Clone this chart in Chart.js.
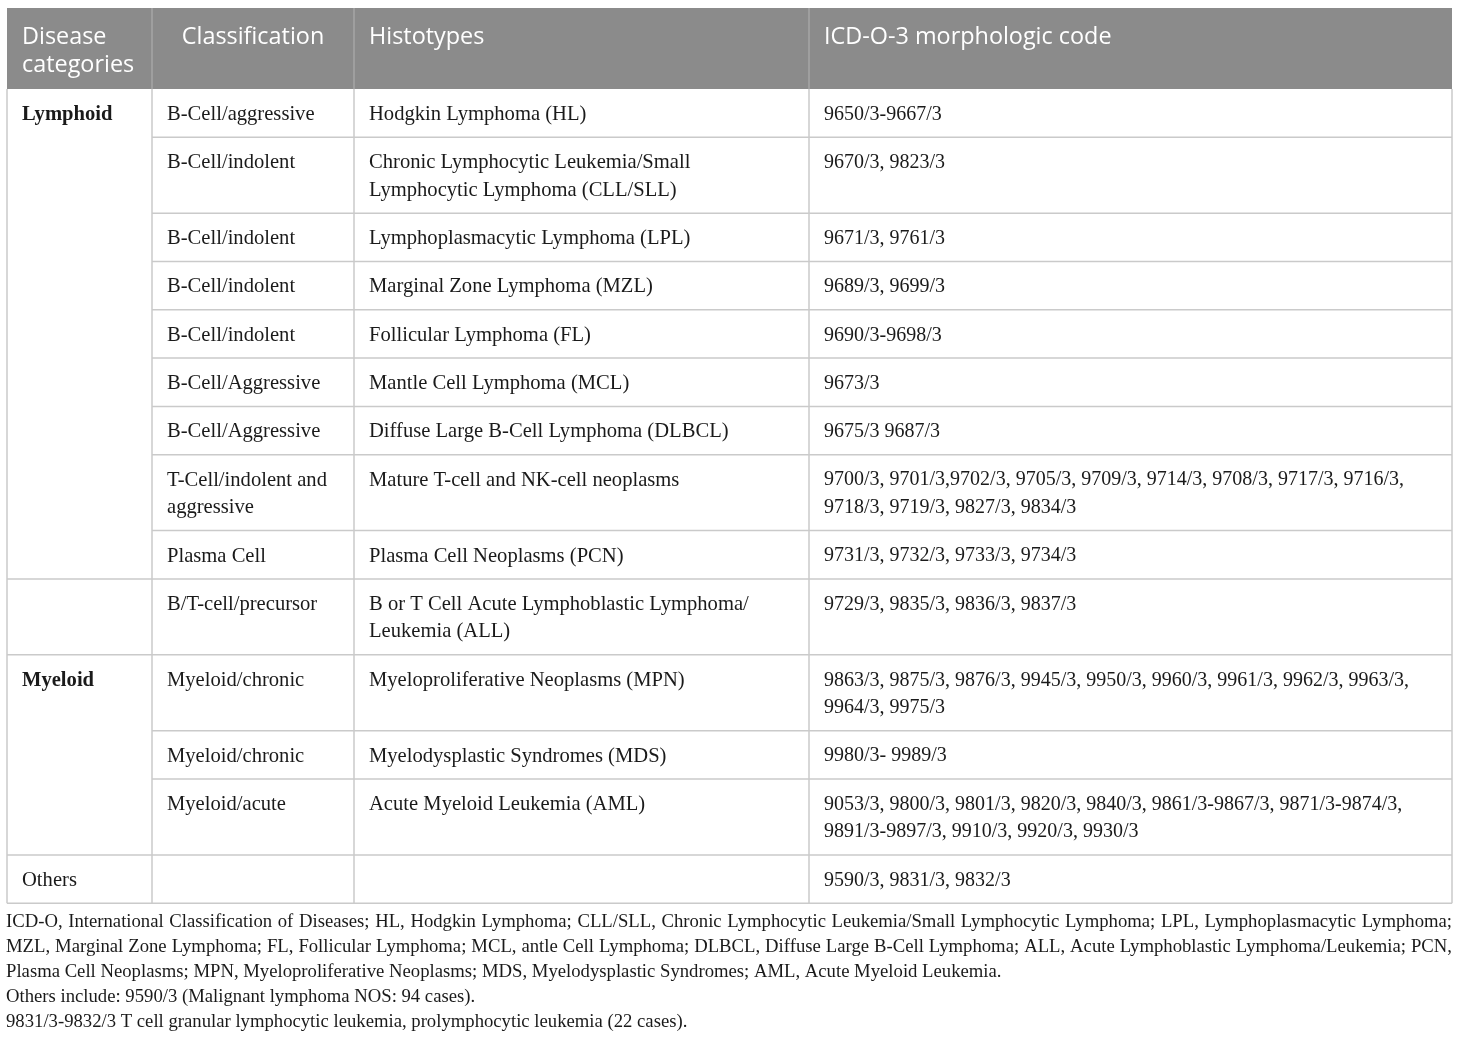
<!DOCTYPE html>
<html>
<head>
<meta charset="utf-8">
<script src="https://cdn.jsdelivr.net/npm/chart.js@4/dist/chart.umd.min.js"></script>
<style>
  html, body { margin: 0; padding: 0; background: #fff; }
  #wrap { width: 1460px; height: 1039px; position: relative; }
</style>
</head>
<body>
<div id="wrap"><canvas id="tableChart"></canvas></div>
<script>
const headers = ["Disease\ncategories", "Classification", "Histotypes", "ICD-O-3 morphologic code"];

const categories = ["Lymphoid", "", "Myeloid", "Others"];
const categorySpans = [9, 1, 3, 1];

const classifications = [
  "B-Cell/aggressive",
  "B-Cell/indolent",
  "B-Cell/indolent",
  "B-Cell/indolent",
  "B-Cell/indolent",
  "B-Cell/Aggressive",
  "B-Cell/Aggressive",
  "T-Cell/indolent and\naggressive",
  "Plasma Cell",
  "B/T-cell/precursor",
  "Myeloid/chronic",
  "Myeloid/chronic",
  "Myeloid/acute",
  ""
];

const histotypes = [
  "Hodgkin Lymphoma (HL)",
  "Chronic Lymphocytic Leukemia/Small\nLymphocytic Lymphoma (CLL/SLL)",
  "Lymphoplasmacytic Lymphoma (LPL)",
  "Marginal Zone Lymphoma (MZL)",
  "Follicular Lymphoma (FL)",
  "Mantle Cell Lymphoma (MCL)",
  "Diffuse Large B-Cell Lymphoma (DLBCL)",
  "Mature T-cell and NK-cell neoplasms",
  "Plasma Cell Neoplasms (PCN)",
  "B or T Cell Acute Lymphoblastic Lymphoma/\nLeukemia (ALL)",
  "Myeloproliferative Neoplasms (MPN)",
  "Myelodysplastic Syndromes (MDS)",
  "Acute Myeloid Leukemia (AML)",
  ""
];

const codes = [
  "9650/3-9667/3",
  "9670/3, 9823/3",
  "9671/3, 9761/3",
  "9689/3, 9699/3",
  "9690/3-9698/3",
  "9673/3",
  "9675/3 9687/3",
  "9700/3, 9701/3,9702/3, 9705/3, 9709/3, 9714/3, 9708/3, 9717/3, 9716/3,\n9718/3, 9719/3, 9827/3, 9834/3",
  "9731/3, 9732/3, 9733/3, 9734/3",
  "9729/3, 9835/3, 9836/3, 9837/3",
  "9863/3, 9875/3, 9876/3, 9945/3, 9950/3, 9960/3, 9961/3, 9962/3, 9963/3,\n9964/3, 9975/3",
  "9980/3- 9989/3",
  "9053/3, 9800/3, 9801/3, 9820/3, 9840/3, 9861/3-9867/3, 9871/3-9874/3,\n9891/3-9897/3, 9910/3, 9920/3, 9930/3",
  "9590/3, 9831/3, 9832/3"
];

const footnotes = [
  "ICD-O, International Classification of Diseases; HL, Hodgkin Lymphoma; CLL/SLL, Chronic Lymphocytic Leukemia/Small Lymphocytic Lymphoma; LPL, Lymphoplasmacytic Lymphoma;",
  "MZL, Marginal Zone Lymphoma; FL, Follicular Lymphoma; MCL, antle Cell Lymphoma; DLBCL, Diffuse Large B-Cell Lymphoma; ALL, Acute Lymphoblastic Lymphoma/Leukemia; PCN,",
  "Plasma Cell Neoplasms; MPN, Myeloproliferative Neoplasms; MDS, Myelodysplastic Syndromes; AML, Acute Myeloid Leukemia.",
  "Others include: 9590/3 (Malignant lymphoma NOS: 94 cases).",
  "9831/3-9832/3 T cell granular lymphocytic leukemia, prolymphocytic leukemia (22 cases)."
];
const justifiedFootnotes = [true, true, false, false, false];

// layout, in axis units (one unit = one page pixel)
const colEdges = [7, 152, 354, 809, 1452];
const tableTop = 8;
const headerBottom = 89;
const rowBase = 20.7;
const lineStep = 27.6;
const footTop = 922.5;
const footStep = 24.8;

const textFont = '20.6px "Liberation Serif", serif';
const codeFont = '20px "Liberation Serif", serif';
const boldFont = 'bold 20.6px "Liberation Serif", serif';
const headFont = '23.4px "Open Sans", sans-serif';
const footFont = '18.7px "Liberation Serif", serif';

const lineCount = s => s ? s.split("\n").length : 1;

const tablePlugin = {
  id: "tablePlugin",
  afterDraw(chart) {
    const { ctx } = chart;
    const xs = chart.scales.x, ys = chart.scales.y;
    const px = v => xs.getPixelForValue(v);
    const py = v => ys.getPixelForValue(v);

    // row boundaries from the number of text lines in each row
    const rowTops = [headerBottom];
    classifications.forEach((c, i) => {
      const n = Math.max(lineCount(c), lineCount(histotypes[i]), lineCount(codes[i]));
      rowTops.push(rowTops[i] + rowBase + lineStep * n);
    });
    const tableBottom = rowTops[rowTops.length - 1];

    ctx.save();

    // header band
    ctx.fillStyle = "#8b8b8b";
    ctx.fillRect(px(colEdges[0]), py(tableTop), px(colEdges[4]) - px(colEdges[0]), py(headerBottom) - py(tableTop));
    ctx.strokeStyle = "#a6a6a6";
    ctx.lineWidth = 1.5;
    for (let c = 1; c < 4; c++) {
      ctx.beginPath();
      ctx.moveTo(px(colEdges[c]), py(tableTop));
      ctx.lineTo(px(colEdges[c]), py(headerBottom));
      ctx.stroke();
    }

    ctx.fillStyle = "#ffffff";
    ctx.font = headFont;
    ctx.textBaseline = "middle";
    headers.forEach((h, c) => {
      h.split("\n").forEach((ln, k) => {
        const yy = py(tableTop + 29 + k * 28);
        if (c === 1) {
          ctx.textAlign = "center";
          ctx.fillText(ln, px((colEdges[1] + colEdges[2]) / 2), yy);
        } else {
          ctx.textAlign = "left";
          ctx.fillText(ln, px(colEdges[c] + 15), yy);
        }
      });
    });

    // grid lines
    ctx.strokeStyle = "#cacaca";
    ctx.lineWidth = 1.5;
    const line = (x1, y1, x2, y2) => {
      ctx.beginPath();
      ctx.moveTo(px(x1), py(y1));
      ctx.lineTo(px(x2), py(y2));
      ctx.stroke();
    };
    colEdges.forEach(cx => line(cx, headerBottom, cx, tableBottom));
    line(colEdges[0], tableBottom, colEdges[4], tableBottom);

    // horizontal row lines, skipping the first column inside a category span
    const spanEnds = [];
    categorySpans.reduce((acc, s) => { spanEnds.push(acc + s); return acc + s; }, 0);
    for (let r = 1; r < rowTops.length - 1; r++) {
      const startX = spanEnds.includes(r) ? colEdges[0] : colEdges[1];
      line(startX, rowTops[r], colEdges[4], rowTops[r]);
    }

    // cell texts
    ctx.fillStyle = "#1a1a1a";
    ctx.textAlign = "left";
    ctx.textBaseline = "middle";
    const drawCell = (text, col, row, font) => {
      if (!text) return;
      ctx.font = font;
      text.split("\n").forEach((ln, k) => {
        ctx.fillText(ln, px(colEdges[col] + 15), py(rowTops[row] + 25.5 + k * lineStep));
      });
    };
    let r0 = 0;
    categories.forEach((cat, i) => {
      drawCell(cat, 0, r0, cat === "Others" ? textFont : boldFont);
      r0 += categorySpans[i];
    });
    classifications.forEach((c, i) => {
      drawCell(c, 1, i, textFont);
      drawCell(histotypes[i], 2, i, textFont);
      drawCell(codes[i], 3, i, codeFont);
    });

    // footnotes
    ctx.font = footFont;
    const fx0 = 6, fx1 = colEdges[4];
    footnotes.forEach((ln, k) => {
      const yy = py(footTop + k * footStep);
      if (justifiedFootnotes[k]) {
        const words = ln.split(" ");
        const wordsW = words.reduce((a, w) => a + ctx.measureText(w).width, 0);
        const gap = (px(fx1) - px(fx0) - wordsW) / (words.length - 1);
        let xx = px(fx0);
        words.forEach(w => {
          ctx.fillText(w, xx, yy);
          xx += ctx.measureText(w).width + gap;
        });
      } else {
        ctx.fillText(ln, px(fx0), yy);
      }
    });

    ctx.restore();
  }
};

new Chart(document.getElementById("tableChart").getContext("2d"), {
  type: "scatter",
  data: {
    datasets: [{
      data: classifications.map((c, i) => ({ x: colEdges[1], y: headerBottom + i })),
      pointRadius: 0,
      showLine: false
    }]
  },
  options: {
    responsive: true,
    maintainAspectRatio: false,
    animation: false,
    events: [],
    layout: { padding: 0 },
    plugins: {
      legend: { display: false },
      tooltip: { enabled: false }
    },
    scales: {
      x: { type: "linear", min: 0, max: 1460, display: false },
      y: { type: "linear", min: 0, max: 1039, reverse: true, display: false }
    }
  },
  plugins: [tablePlugin]
});
</script>
</body>
</html>
